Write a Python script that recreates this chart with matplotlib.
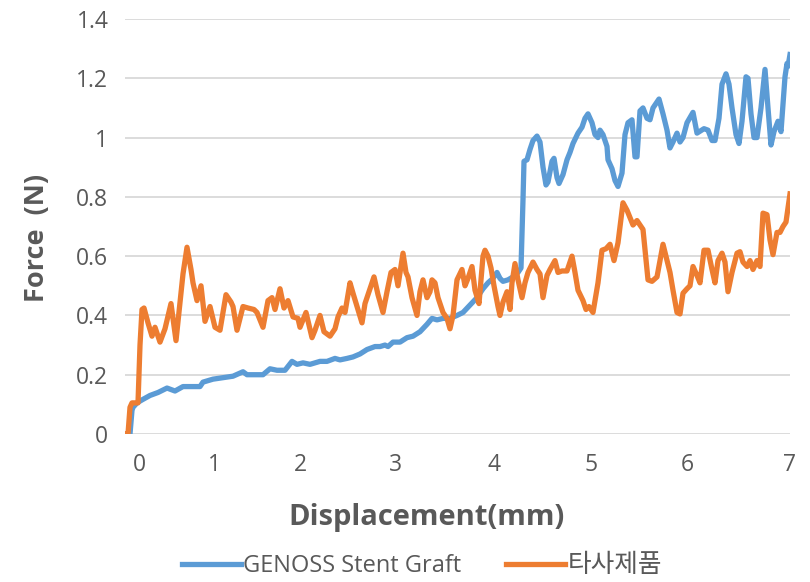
import numpy as np
import matplotlib
matplotlib.use("Agg")
import matplotlib.pyplot as plt

plt.rcParams['font.family'] = ['Open Sans', 'Noto Sans CJK KR', 'DejaVu Sans']

# x is the sample number along the category axis; displacement labels sit at given samples
tick_samples = [14, 89, 175, 270, 369, 466, 562, 665]
tick_labels = ['0', '1', '2', '3', '4', '5', '6', '7']

genoss_s = [0, 5, 7, 8, 12, 17, 25, 33, 42, 50, 58, 68, 75, 78, 88, 98, 108, 118, 122,
            132, 138, 145, 152, 160, 167, 172, 178, 185, 195, 202, 210, 215, 222, 228,
            235, 242, 250, 255, 260, 263, 268, 275, 282, 288, 295, 302, 307, 312, 318,
            325, 332, 338, 345, 352, 358, 363, 368, 372, 375, 378, 383, 388, 393, 396,
            398, 399, 402, 405, 408, 412, 415, 418, 421, 423, 427, 429, 432, 434, 438,
            442, 445, 448, 453, 457, 460, 463, 467, 470, 473, 475, 478, 482, 483, 487,
            490, 493, 497, 500, 503, 507, 510, 512, 515, 518, 522, 525, 528, 532, 534,
            538, 542, 545, 548, 552, 555, 558, 562, 568, 572, 579, 583, 587, 590, 594,
            597, 601, 604, 607, 611, 614, 617, 621, 623, 626, 629, 632, 636, 640, 643,
            646, 649, 653, 656, 660, 662, 663, 665]
genoss_f = [0, 0, 0.08, 0.09, 0.105, 0.115, 0.13, 0.14, 0.155, 0.145, 0.16, 0.16, 0.16,
            0.175, 0.185, 0.19, 0.195, 0.21, 0.20, 0.20, 0.20, 0.22, 0.215, 0.215, 0.245,
            0.235, 0.24, 0.235, 0.245, 0.245, 0.255, 0.25, 0.255, 0.26, 0.27, 0.285,
            0.295, 0.295, 0.30, 0.295, 0.31, 0.31, 0.325, 0.33, 0.345, 0.37, 0.39, 0.385,
            0.39, 0.39, 0.40, 0.41, 0.435, 0.46, 0.49, 0.51, 0.525, 0.545, 0.525, 0.515,
            0.52, 0.53, 0.545, 0.56, 0.79, 0.92, 0.925, 0.96, 0.99, 1.005, 0.985, 0.90,
            0.84, 0.85, 0.92, 0.93, 0.865, 0.845, 0.875, 0.925, 0.95, 0.98, 1.015, 1.035,
            1.065, 1.08, 1.05, 1.01, 1.0, 1.025, 1.01, 0.97, 0.925, 0.895, 0.855, 0.835,
            0.88, 1.01, 1.05, 1.06, 0.935, 0.935, 1.09, 1.10, 1.065, 1.06, 1.10, 1.12,
            1.13, 1.08, 1.025, 0.965, 0.985, 1.015, 0.985, 1.0, 1.05, 1.085, 1.015, 1.03,
            1.025, 0.99, 0.99, 1.065, 1.18, 1.215, 1.18, 1.10, 1.01, 0.98, 1.055, 1.205,
            1.20, 1.08, 1.0, 1.0, 1.10, 1.23, 1.10, 0.975, 1.02, 1.055, 1.02, 1.205, 1.25,
            1.24, 1.28]

other_s = [0, 3, 5, 7, 13, 15, 17, 19, 23, 27, 30, 35, 40, 46, 51, 58, 62, 66, 68, 72,
           76, 80, 85, 90, 95, 101, 106, 108, 112, 118, 123, 129, 132, 138, 143, 147,
           150, 155, 159, 163, 168, 173, 175, 181, 187, 190, 195, 199, 205, 210, 213,
           217, 220, 225, 228, 232, 237, 240, 245, 249, 253, 258, 262, 266, 270, 273,
           278, 281, 283, 287, 292, 295, 298, 302, 305, 307, 310, 313, 318, 322, 325,
           328, 332, 337, 340, 343, 347, 350, 354, 358, 360, 363, 366, 369, 373, 375,
           378, 382, 385, 387, 390, 393, 397, 400, 403, 408, 412, 415, 418, 422, 425,
           430, 433, 437, 442, 447, 450, 453, 458, 461, 464, 468, 473, 477, 481, 485,
           489, 493, 498, 502, 505, 508, 512, 515, 518, 523, 527, 532, 535, 538, 542,
           545, 548, 552, 555, 558, 562, 565, 568, 572, 575, 579, 583, 587, 590, 593,
           597, 600, 603, 607, 612, 615, 618, 622, 625, 628, 632, 635, 638, 642, 645,
           648, 652, 655, 658, 661, 665]
other_f = [0, 0, 0.09, 0.105, 0.105, 0.30, 0.42, 0.425, 0.375, 0.33, 0.36, 0.31, 0.355,
           0.44, 0.315, 0.54, 0.63, 0.555, 0.51, 0.45, 0.50, 0.38, 0.43, 0.36, 0.35,
           0.47, 0.445, 0.43, 0.35, 0.43, 0.425, 0.42, 0.41, 0.36, 0.45, 0.46, 0.42,
           0.49, 0.425, 0.45, 0.395, 0.39, 0.36, 0.41, 0.325, 0.35, 0.40, 0.345, 0.33,
           0.355, 0.395, 0.425, 0.41, 0.51, 0.475, 0.43, 0.375, 0.44, 0.49, 0.53, 0.47,
           0.41, 0.48, 0.545, 0.555, 0.50, 0.61, 0.545, 0.53, 0.46, 0.40, 0.48, 0.52,
           0.46, 0.48, 0.52, 0.51, 0.46, 0.41, 0.39, 0.355, 0.40, 0.52, 0.555, 0.50,
           0.525, 0.565, 0.485, 0.44, 0.60, 0.62, 0.60, 0.56, 0.50, 0.43, 0.40, 0.445,
           0.48, 0.42, 0.51, 0.575, 0.52, 0.46, 0.51, 0.545, 0.58, 0.555, 0.54, 0.46,
           0.535, 0.555, 0.585, 0.545, 0.55, 0.55, 0.60, 0.545, 0.485, 0.45, 0.42, 0.43,
           0.41, 0.51, 0.62, 0.625, 0.64, 0.585, 0.645, 0.78, 0.755, 0.73, 0.705, 0.72,
           0.705, 0.69, 0.52, 0.515, 0.53, 0.585, 0.64, 0.585, 0.545, 0.485, 0.41, 0.405,
           0.475, 0.49, 0.50, 0.565, 0.535, 0.51, 0.62, 0.62, 0.555, 0.51, 0.585, 0.61,
           0.58, 0.48, 0.545, 0.61, 0.615, 0.58, 0.565, 0.585, 0.555, 0.585, 0.565, 0.745,
           0.74, 0.655, 0.605, 0.68, 0.68, 0.70, 0.715, 0.81]

grey = '#595959'

fig = plt.figure(figsize=(8.1, 5.82), dpi=100)
ax = fig.add_axes([125 / 810, 1 - 434 / 582, 665 / 810, 415 / 582])

ax.plot(genoss_s, genoss_f, color='#5B9BD5', lw=3.8, solid_joinstyle='round',
        label='GENOSS Stent Graft', zorder=3)
ax.plot(other_s, other_f, color='#ED7D31', lw=3.8, solid_joinstyle='round',
        label='타사제품', zorder=3)

ax.set_xlim(0, 665)
ax.set_ylim(0, 1.4)
ax.set_yticks(np.arange(0, 1.41, 0.2))
ax.set_yticklabels(['0', '0.2', '0.4', '0.6', '0.8', '1', '1.2', '1.4'])
ax.set_xticks(tick_samples)
ax.set_xticklabels(tick_labels)
ax.grid(axis='y', color='#D9D9D9', lw=1.3)
ax.set_axisbelow(True)
for side in ['top', 'right', 'left', 'bottom']:
    ax.spines[side].set_visible(False)
ax.tick_params(axis='both', length=0, labelsize=16.5, labelcolor=grey)
ax.tick_params(axis='y', pad=12)
ax.tick_params(axis='x', pad=14)

ax.set_xlabel('Displacement(mm)', fontsize=21, fontweight='bold', color=grey,
              va='center')
ax.set_ylabel('Force  (N)', fontsize=19.5, fontweight='bold', color=grey,
              va='center')
ax.xaxis.set_label_coords(0.454, -0.2)
ax.yaxis.set_label_coords(-0.133, 0.472)

leg = fig.legend(loc='center', bbox_to_anchor=(422 / 810, 1 - 566 / 582), ncol=2,
                 frameon=False, fontsize=17, handlelength=2.5, handletextpad=0.1,
                 columnspacing=1.9, labelcolor=grey)
# the Hangul label is set a little larger than the Latin one
leg.get_texts()[1].set_fontsize(18.5)

fig.savefig('out.png', dpi=100)
